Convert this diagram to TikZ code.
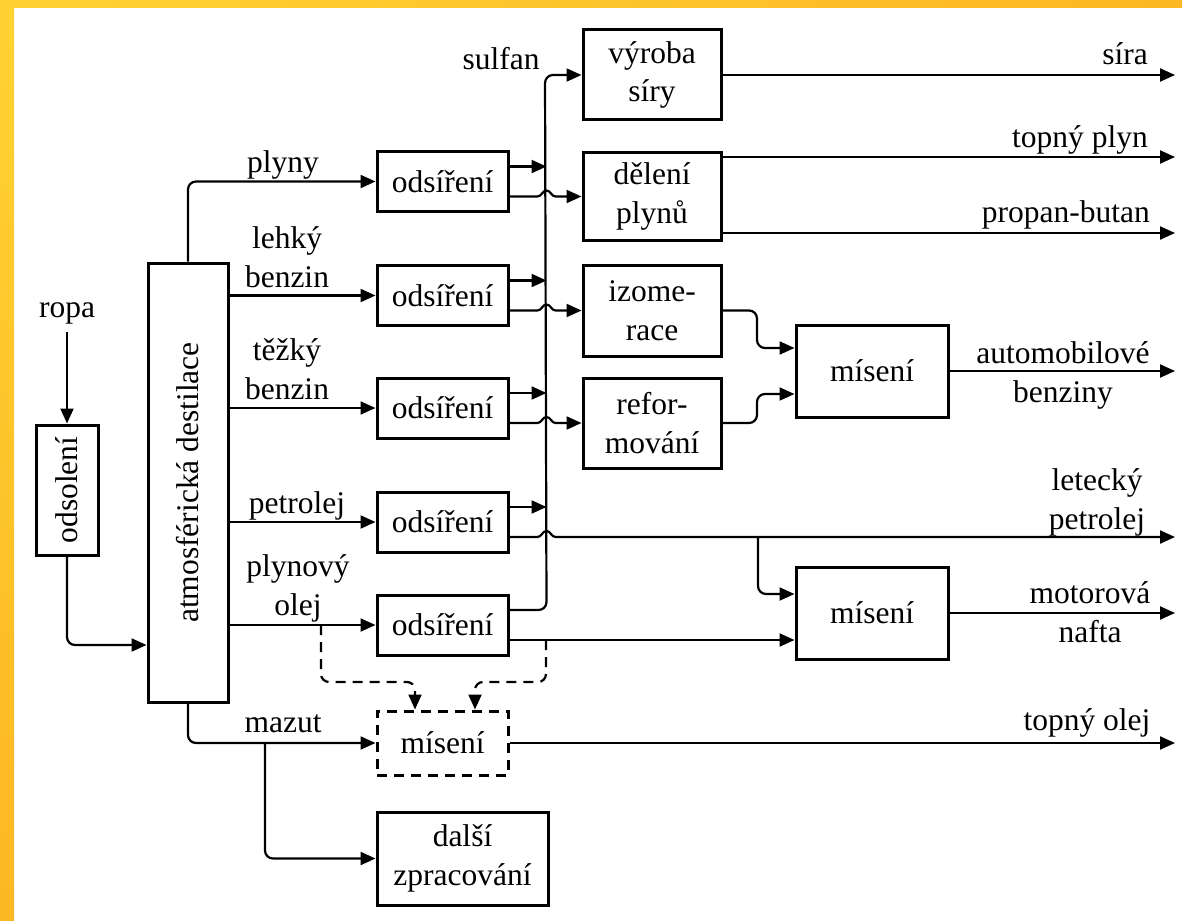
\documentclass[tikz,border=0pt]{standalone}
\usepackage{fontspec}
\usepackage{graphicx}
\setmainfont{Liberation Serif}
\usetikzlibrary{arrows.meta,calc}
\definecolor{baryellow}{RGB}{255,210,50}
\definecolor{barorange}{RGB}{252,183,36}
\newcommand\dtxt{\fontsize{31.5}{38.5}\selectfont}
\begin{document}
\begin{tikzpicture}[x=1pt,y=-1pt,
  box/.style={draw, line width=3pt, minimum width=131pt, minimum height=60pt, inner sep=0pt, align=center, font=\dtxt},
  lbl/.style={inner sep=0pt, align=center, font=\dtxt, anchor=base},
  conn/.style={line width=2.2pt, rounded corners=8pt},
  arr/.style={-{Triangle[length=15pt,width=13pt]}},
  dsh/.style={dash pattern=on 10pt off 7pt}]
\useasboundingbox (0,0) rectangle (1182,920);
\fill[white] (0,0) rectangle (1182,920);
\shade[left color=baryellow, right color=barorange] (0,0) rectangle (1182,8);
\shade[top color=baryellow, bottom color=barorange] (0,0) rectangle (14,920);

% boxes
\node[box, minimum width=62pt, minimum height=130pt] (odsol) at (67,490) {\rotatebox{90}{odsolení}};
\node[box, minimum width=80pt, minimum height=439pt] (atm) at (188,482.5) {\rotatebox{90}{atmosférická destilace}};
\node[box] (d1) at (442.5,181.5) {odsíření};
\node[box] (d2) at (442.5,295.5) {odsíření};
\node[box] (d3) at (442.5,408) {odsíření};
\node[box] (d4) at (442.5,522) {odsíření};
\node[box] (d5) at (442.5,625) {odsíření};
\node[box, minimum width=138pt, minimum height=90pt] (vyr) at (652,75) {výroba\\síry};
\node[box, minimum width=138pt, minimum height=88pt] (del) at (652,196.5) {dělení\\plynů};
\node[box, minimum width=138pt, minimum height=91pt] (izo) at (652,310.5) {izome-\\race};
\node[box, minimum width=138pt, minimum height=90pt] (ref) at (652,423) {refor-\\mování};
\node[box, minimum width=152pt, minimum height=92pt] (mis1) at (872,371) {mísení};
\node[box, minimum width=152pt, minimum height=92pt] (mis2) at (872,613) {mísení};
\node[box, dsh, minimum width=131pt, minimum height=64pt] (mis3) at (442.5,743) {mísení};
\node[box, minimum width=171pt, minimum height=93pt] (dalsi) at (462.5,858.5) {další\\zpracování};

% labels (base = baseline of last line)
\node[lbl] (ropa) at (67,317) {ropa};
\node[lbl] (lplyny) at (283,173) {plyny};
\node[lbl] (llehky) at (287,287) {lehký\\benzin};
\node[lbl] (ltezky) at (287,399) {těžký\\benzin};
\node[lbl] (lpetr) at (297,513) {petrolej};
\node[lbl] (lplol) at (298,615) {plynový\\olej};
\node[lbl] (lmazut) at (283,732) {mazut};
\node[lbl] (lsulfan) at (501,70) {sulfan};
\node[lbl] (lsira) at (1125,65) {síra};
\node[lbl, anchor=base east] (ltp) at (1148,148) {topný plyn};
\node[lbl, anchor=base east] (lpb) at (1150,222) {propan-butan};
\node[lbl] (lauto) at (1063,402) {automobilové\\benziny};
\node[lbl] (llet) at (1097,529) {letecký\\petrolej};
\node[lbl] (lmot) at (1090,642) {motorová\\nafta};
\node[lbl] (ltol) at (1087,730) {topný olej};

% coordinates
\coordinate (sx) at (545,0);
\coordinate (mx) at (757,0);
\coordinate (endx) at (1175,0);
\coordinate (dx1) at (415,0);
\coordinate (dx2) at (475,0);
\coordinate (bx2) at (265,0);

% feed
\draw[conn,arr] ([yshift=-8pt]ropa.south) -- (odsol.north);
\draw[conn,arr] (odsol.south) -- (67,645) -- (atm.west |- 0,645);
\draw[conn,arr] (atm.north) -- (atm.north |- d1.west) -- (d1.west);
\draw[conn,arr] (atm.east |- d2.west) -- (d2.west);
\draw[conn,arr] (atm.east |- d3.west) -- (d3.west);
\draw[conn,arr] (atm.east |- d4.west) -- (d4.west);
\draw[conn,arr] (atm.east |- d5.west) -- (d5.west);

% sulfan
\foreach \d in {d1,d2,d3,d4}{
  \draw[conn,arr,rounded corners=0pt] ([yshift=15pt]\d.east) -- ++(37,0);
}
\draw[conn,arr] ([yshift=15pt]d5.east) -- ++(37,0) -- (sx |- vyr.west) -- (vyr.west);

% lower outputs with bridges
\draw[conn,arr,rounded corners=0pt] ([yshift=-15pt]d1.east) -- ++(28,0) to[out=0,in=180] ++(9,-6) to[out=0,in=180] ++(9,6) -- (del.west);
\draw[conn,arr,rounded corners=0pt] ([yshift=-15pt]d2.east) -- ++(28,0) to[out=0,in=180] ++(9,-6) to[out=0,in=180] ++(9,6) -- (izo.west);
\draw[conn,arr,rounded corners=0pt] ([yshift=-15pt]d3.east) -- ++(28,0) to[out=0,in=180] ++(9,-6) to[out=0,in=180] ++(9,6) -- (ref.west);
\coordinate (letend) at (1175,537);
\draw[conn,arr,rounded corners=0pt] ([yshift=-15pt]d4.east) -- ++(28,0) to[out=0,in=180] ++(9,-6) to[out=0,in=180] ++(9,6) -- (letend);
\coordinate (br1) at (758,537);
\draw[conn,arr] (br1) -- (758,594) -- (mis2.west |- 0,594);
\coordinate (d5lo) at ([yshift=-15pt]d5.east);
\draw[conn,arr] (d5lo) -- (mis2.west |- d5lo);

% to blending 1
\draw[conn,arr] (izo.east) -- (mx |- izo.east) -- (757,348) -- (mis1.west |- 0,348);
\draw[conn,arr] (ref.east) -- (mx |- ref.east) -- (757,394) -- (mis1.west |- 0,394);

% outputs
\draw[conn,arr] (vyr.east) -- (endx |- vyr.east);
\draw[conn,arr] (del.east |- 0,157) -- (1175,157);
\draw[conn,arr] (del.east |- 0,233) -- (1175,233);
\draw[conn,arr] (mis1.east) -- (endx |- mis1.east);
\draw[conn,arr] (mis2.east) -- (endx |- mis2.east);
\draw[conn,arr] (mis3.east) -- (endx |- mis3.east);

% dashed
\coordinate (ds1) at (321,625);
\coordinate (ds2) at (546,640);
\draw[conn,arr,dsh] (ds1) -- (321,682) -- (415,682) -- (dx1 |- mis3.north);
\draw[conn,arr,dsh] (ds2) -- (546,682) -- (475,682) -- (dx2 |- mis3.north);

% mazut
\draw[conn,arr] (atm.south) -- (atm.south |- mis3.west) -- (mis3.west);
\coordinate (br2) at (265,743);
\draw[conn,arr] (br2) -- (bx2 |- dalsi.west) -- (dalsi.west);
\end{tikzpicture}
\end{document}
